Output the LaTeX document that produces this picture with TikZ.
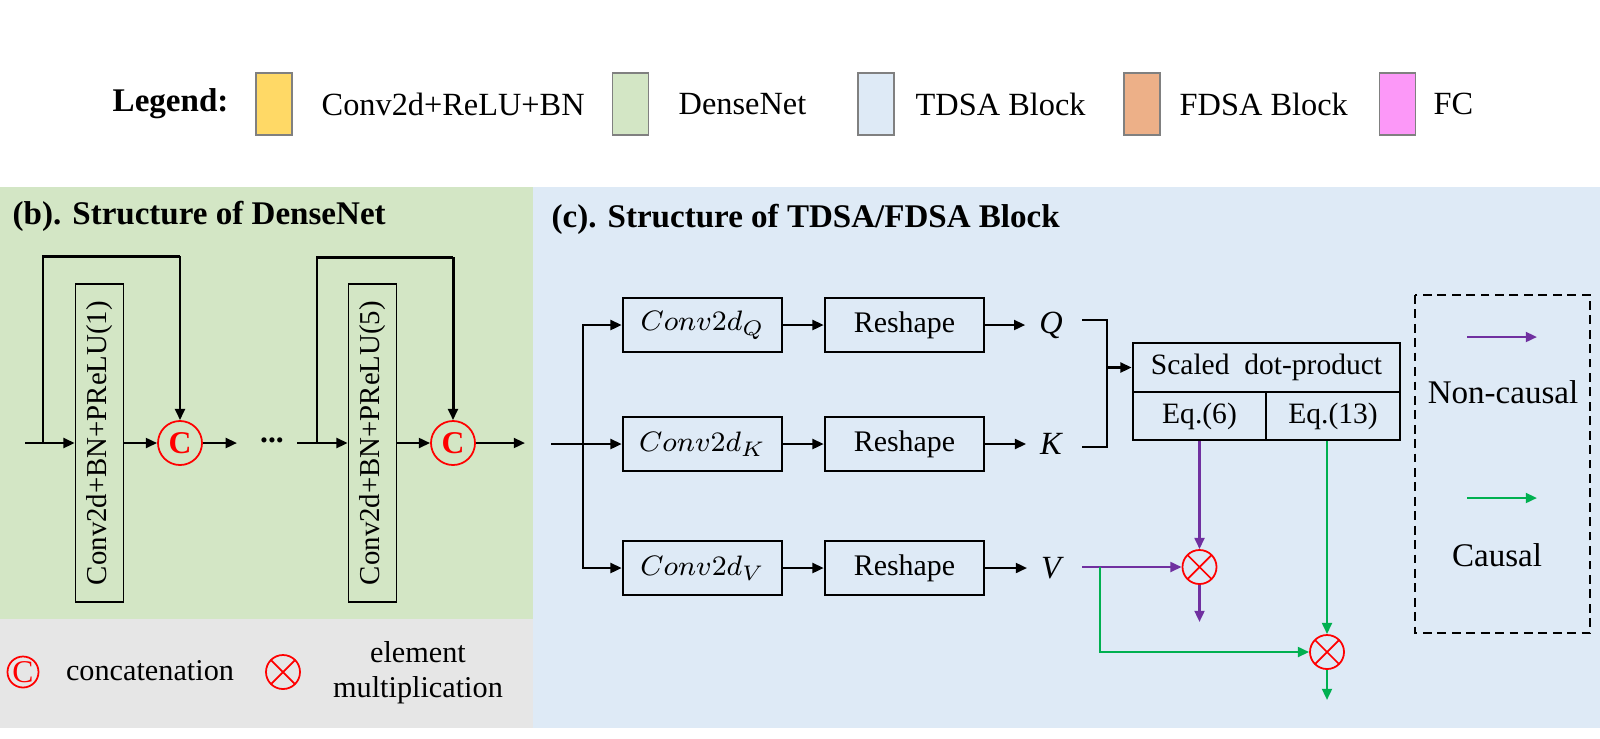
\documentclass[tikz,border=0pt]{standalone}
\usepackage{fontspec}
\setmainfont{Liberation Serif}
\usepackage{tikz}
\usetikzlibrary{arrows.meta}

\definecolor{legyellow}{RGB}{255,217,102}
\definecolor{densegreen}{RGB}{211,230,197}
\definecolor{tdsablue}{RGB}{222,234,246}
\definecolor{fdsaorange}{RGB}{237,176,136}
\definecolor{fcpink}{RGB}{252,152,248}
\definecolor{notegray}{RGB}{230,230,230}
\definecolor{ncpurple}{RGB}{112,48,160}
\definecolor{cgreen}{RGB}{0,176,80}

\tikzset{
  legbox/.style={draw=gray, line width=0.45pt, minimum width=0.36cm, minimum height=0.62cm, inner sep=0pt},
  legtext/.style={anchor=west, inner sep=0pt, font=\fontsize{9.2}{11}\selectfont},
  title/.style={anchor=west, inner sep=0pt, font=\bfseries\fontsize{9.4}{11}\selectfont},
  dbox/.style={draw, line width=0.45pt, minimum width=0.48cm, minimum height=3.18cm, inner sep=0pt, font=\fontsize{8.2}{10}\selectfont},
  cat/.style={circle, draw=red, line width=0.5pt, minimum size=0.44cm, inner sep=0pt, text=red, font=\bfseries\fontsize{9}{10}\selectfont},
  mult/.style={circle, draw=red, line width=0.5pt, minimum size=0.34cm, inner sep=0pt,
    path picture={\draw[red, line width=0.5pt] (path picture bounding box.north west) -- (path picture bounding box.south east)
      (path picture bounding box.north east) -- (path picture bounding box.south west);}},
  tbox/.style={draw, line width=0.7pt, minimum width=1.59cm, minimum height=0.54cm, inner sep=0pt, font=\fontsize{8.5}{10}\selectfont},
  eqbox/.style={draw, line width=0.7pt, minimum height=0.48cm, inner sep=0pt, font=\fontsize{8.4}{10}\selectfont},
  lbl/.style={inner xsep=3.8pt, inner ysep=0pt, font=\itshape\fontsize{9.2}{11}\selectfont},
  note/.style={inner sep=0pt, font=\fontsize{8.6}{10}\selectfont, align=center},
  arr/.style={->, line width=0.7pt},
  skip/.style={line width=0.85pt},
  ncline/.style={->, ncpurple, line width=0.7pt},
  cline/.style={->, cgreen, line width=0.7pt}
}

\begin{document}
\begin{tikzpicture}[>={Triangle[length=3.2pt,width=2.8pt]}, x=0.01cm, y=-0.01cm]
  \useasboundingbox (0,0) rectangle (1600,738);
  % panels
  \fill[densegreen] (0,187) rectangle (533,619);
  \fill[notegray] (0,619) rectangle (533,728);
  \fill[tdsablue] (533,187) rectangle (1600,728);

  % legend row
  \node[title] (leg) at (112,104){Legend:};
  \node[legbox, fill=legyellow] (lg1) at (274,104){};
  \node[legtext] (lt1) at (321,104){Conv2d+ReLU+BN};
  \node[legbox, fill=densegreen] (lg2) at (630.5,104){};
  \node[legtext] (lt2) at (678,104){DenseNet};
  \node[legbox, fill=tdsablue] (lg3) at (876,104){};
  \node[legtext] (lt3) at (915,104){TDSA Block};
  \node[legbox, fill=fdsaorange] (lg4) at (1142,104){};
  \node[legtext] (lt4) at (1179,104){FDSA Block};
  \node[legbox, fill=fcpink] (lg5) at (1397.5,104){};
  \node[legtext] (lt5) at (1433,104){FC};

  % (b) DenseNet
  \node[title] (btitle) at (12,216){(b). Structure of DenseNet};
  \node[dbox] (db1) at (99.5,443){\rotatebox{90}{Conv2d+BN+PReLU(1)}};
  \node[cat] (c1) at (180,443){C};
  \node[dbox] (db5) at (372.5,443){\rotatebox{90}{Conv2d+BN+PReLU(5)}};
  \node[cat] (c5) at (453,443){C};
  \node[inner sep=0pt, font=\bfseries\fontsize{9}{10}\selectfont] (dots) at (272,440){...};
  \coordinate (in1) at (25,443);
  \coordinate (s1) at (43,443);
  \coordinate (t1) at (180,256);
  \coordinate (out1) at (237,443);
  \coordinate (in5) at (297,443);
  \coordinate (s5) at (317,443);
  \coordinate (t5) at (453,257);
  \coordinate (out5) at (525,443);
  \draw[arr] (in1) -- (db1.west);
  \draw[skip] (s1) |- (t1);
  \draw[arr, skip] (t1) -- (c1.north);
  \draw[arr] (db1.east) -- (c1.west);
  \draw[arr] (c1.east) -- (out1);
  \draw[arr] (in5) -- (db5.west);
  \draw[skip] (s5) |- (t5);
  \draw[arr, skip] (t5) -- (c5.north);
  \draw[arr] (db5.east) -- (c5.west);
  \draw[arr] (c5.east) -- (out5);

  % symbols
  \node[cat, minimum size=0.31cm, font=\fontsize{9}{10}\selectfont] (symc) at (23,672){C};
  \node[note] (symct) at (150,671){concatenation};
  \node[mult] (symm) at (283,672){};
  \node[note] (symmt) at (418,673){element\\multiplication};

  % (c) TDSA/FDSA block
  \node[title] (ctitle) at (551,219){(c). Structure of TDSA/FDSA Block};
  \node[tbox] (cq) at (702.5,325){$Conv2d_Q$};
  \node[tbox] (ck) at (702.5,444){$Conv2d_K$};
  \node[tbox] (cv) at (702.5,568){$Conv2d_V$};
  \node[tbox] (rq) at (904.5,325){Reshape};
  \node[tbox] (rk) at (904.5,444){Reshape};
  \node[tbox] (rv) at (904.5,568){Reshape};
  \node[lbl] (q) at (1051,325){Q};
  \node[lbl] (k) at (1051,444){K};
  \node[lbl] (v) at (1051,568){V};
  \coordinate (tin) at (551,444);
  \coordinate (br) at (583,444);
  \draw[arr] (tin) -- (ck.west);
  \draw[arr] (br) |- (cq.west);
  \draw[arr] (br) |- (cv.west);
  \foreach \a/\b in {cq/rq, ck/rk, cv/rv, rq/q, rk/k, rv/v}
    \draw[arr] (\a.east) -- (\b.west);

  % scaled dot-product
  \node[eqbox, minimum width=2.67cm, minimum height=0.49cm] (sdp) at (1266.5,367.5){Scaled\enspace dot-product};
  \node[eqbox, minimum width=1.33cm] (eq6) at (1199.5,416){Eq.(6)};
  \node[eqbox, minimum width=1.34cm] (eq13) at (1333,416){Eq.(13)};
  \coordinate (bq) at (1082,320);
  \coordinate (bk) at (1082,447);
  \coordinate (bm) at (1107,367.5);
  \draw[line width=0.7pt] (bq) -| (bm) |- (bk);
  \draw[arr] (bm) -- (sdp.west);

  % multiplications
  \node[mult] (m1) at (1199.5,567){};
  \node[mult] (m2) at (1327,652){};
  \coordinate (vs) at (1082,567);
  \coordinate (gs) at (1100,567);
  \coordinate (o1) at (1199.5,622);
  \coordinate (o2) at (1327,700);
  \draw[ncline] (eq6.south) -- (m1.north);
  \draw[ncline] (vs) -- (m1.west);
  \draw[ncline] (m1.south) -- (o1);
  \draw[cline] (m2.north |- eq13.south) -- (m2.north);
  \draw[cline] (gs) |- (m2.west);
  \draw[cline] (m2.south) -- (o2);

  % causal legend
  \draw[line width=0.7pt, dash pattern=on 2.5pt off 1.6pt] (1415,295) rectangle (1590,633);
  \coordinate (nca) at (1467,337);
  \coordinate (ncb) at (1537,337);
  \coordinate (ca) at (1467,498);
  \coordinate (cb) at (1537,498);
  \draw[ncline] (nca) -- (ncb);
  \draw[cline] (ca) -- (cb);
  \node[note, font=\fontsize{9.4}{11}\selectfont] (nct) at (1503,392){Non-causal};
  \node[note, font=\fontsize{9.4}{11}\selectfont] (ct) at (1497,555){Causal};
\end{tikzpicture}
\end{document}
